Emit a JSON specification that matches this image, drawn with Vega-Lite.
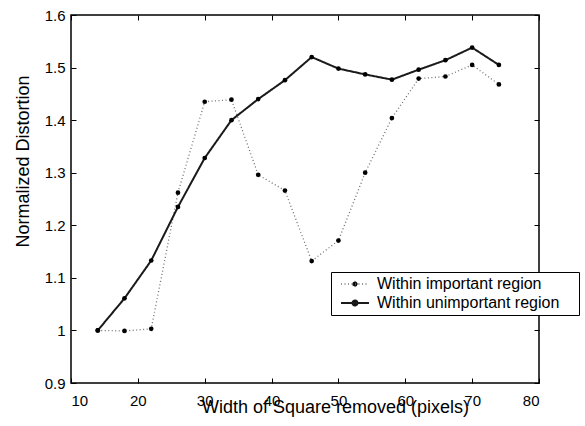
{
  "$schema": "https://vega.github.io/schema/vega-lite/v6.json",
  "width": 468,
  "height": 368,
  "autosize": {"type": "none"},
  "padding": {"left": 71, "top": 15, "right": 46, "bottom": 43},
  "background": "white",
  "config": {
    "font": "Liberation Sans",
    "view": {"stroke": "black", "strokeWidth": 1.5},
    "axis": {
      "domain": false,
      "grid": false,
      "ticks": true,
      "tickColor": "black",
      "tickSize": -5,
      "tickWidth": 1,
      "tickOpacity": 1,
      "labelColor": "black",
      "labelFont": "Liberation Sans",
      "labelFontSize": 15,
      "titleColor": "black",
      "titleFont": "Liberation Sans",
      "titleFontSize": 18,
      "titleFontWeight": "normal"
    }
  },
  "data": {
    "values": [
      {"w": 14, "d": 1.0, "series": "Within important region"},
      {"w": 18, "d": 0.999, "series": "Within important region"},
      {"w": 22, "d": 1.003, "series": "Within important region"},
      {"w": 26, "d": 1.262, "series": "Within important region"},
      {"w": 30, "d": 1.435, "series": "Within important region"},
      {"w": 34, "d": 1.439, "series": "Within important region"},
      {"w": 38, "d": 1.296, "series": "Within important region"},
      {"w": 42, "d": 1.266, "series": "Within important region"},
      {"w": 46, "d": 1.132, "series": "Within important region"},
      {"w": 50, "d": 1.171, "series": "Within important region"},
      {"w": 54, "d": 1.3, "series": "Within important region"},
      {"w": 58, "d": 1.404, "series": "Within important region"},
      {"w": 62, "d": 1.479, "series": "Within important region"},
      {"w": 66, "d": 1.483, "series": "Within important region"},
      {"w": 70, "d": 1.505, "series": "Within important region"},
      {"w": 74, "d": 1.468, "series": "Within important region"},
      {"w": 14, "d": 1.0, "series": "Within unimportant region"},
      {"w": 18, "d": 1.061, "series": "Within unimportant region"},
      {"w": 22, "d": 1.133, "series": "Within unimportant region"},
      {"w": 26, "d": 1.235, "series": "Within unimportant region"},
      {"w": 30, "d": 1.328, "series": "Within unimportant region"},
      {"w": 34, "d": 1.4, "series": "Within unimportant region"},
      {"w": 38, "d": 1.44, "series": "Within unimportant region"},
      {"w": 42, "d": 1.476, "series": "Within unimportant region"},
      {"w": 46, "d": 1.52, "series": "Within unimportant region"},
      {"w": 50, "d": 1.498, "series": "Within unimportant region"},
      {"w": 54, "d": 1.487, "series": "Within unimportant region"},
      {"w": 58, "d": 1.477, "series": "Within unimportant region"},
      {"w": 62, "d": 1.496, "series": "Within unimportant region"},
      {"w": 66, "d": 1.514, "series": "Within unimportant region"},
      {"w": 70, "d": 1.538, "series": "Within unimportant region"},
      {"w": 74, "d": 1.505, "series": "Within unimportant region"}
    ]
  },
  "layer": [
    {
      "mark": {"type": "line"},
      "encoding": {
        "x": {
          "field": "w", "type": "quantitative",
          "scale": {"domain": [10, 80], "nice": false, "zero": false},
          "axis": {
            "orient": "bottom", "values": [10, 20, 30, 40, 50, 60, 70, 80], "format": "d",
            "labelPadding": 15, "labelBaseline": "top",
            "title": "Width of Square removed (pixels)",
            "titleX": 264, "titleY": 29, "titleAlign": "center", "titleBaseline": "alphabetic"
          }
        },
        "y": {
          "field": "d", "type": "quantitative",
          "scale": {"domain": [0.9, 1.6], "nice": false, "zero": false},
          "axis": {
            "orient": "left", "values": [0.9, 1.0, 1.1, 1.2, 1.3, 1.4, 1.5, 1.6], "format": ".1~f",
            "labelPadding": 11,
            "title": "Normalized Distortion",
            "titleX": -43, "titleY": 146, "titleAlign": "center", "titleBaseline": "alphabetic", "titleAngle": 270
          }
        },
        "stroke": {
          "field": "series", "type": "nominal",
          "scale": {"domain": ["Within important region", "Within unimportant region"], "range": ["#707070", "#1a1a1a"]},
          "legend": {
            "title": "\u00a0",
            "titleOrient": "right",
            "titleAngle": 0,
            "titlePadding": 16,
            "titleFontSize": 16,
            "orient": "none",
            "legendX": 260,
            "legendY": 257,
            "fillColor": "white",
            "strokeColor": "black",
            "padding": 4,
            "symbolOffset": 12,
            "symbolType": "M-2,0L2,0M-0.36,0A0.36,0.36 0 1,1 0.36,0A0.36,0.36 0 1,1 -0.36,0Z",
            "symbolSize": 196,
            "symbolStrokeWidth": 1.6,
            "labelFont": "Liberation Sans",
            "labelFontSize": 16,
            "labelColor": "black",
            "labelOffset": 14,
            "labelLimit": 500,
            "rowPadding": 3,
            "encode": {
              "symbols": {"update": {"fill": {"value": "black"}}}
            }
          }
        },
        "strokeDash": {
          "field": "series", "type": "nominal",
          "scale": {"domain": ["Within important region", "Within unimportant region"], "range": [[1, 2.5], [1, 0]]}
        },
        "strokeWidth": {
          "field": "series", "type": "nominal",
          "scale": {"domain": ["Within important region", "Within unimportant region"], "range": [1.3, 2]},
          "legend": null
        }
      }
    },
    {
      "mark": {"type": "point", "filled": true, "color": "black", "size": 22, "opacity": 1},
      "encoding": {
        "x": {"field": "w", "type": "quantitative", "axis": null},
        "y": {"field": "d", "type": "quantitative", "axis": null},
        "detail": {"field": "series"}
      }
    },
    {
      "mark": {"type": "point", "opacity": 0},
      "encoding": {
        "x": {
          "field": "w", "type": "quantitative",
          "axis": {"orient": "top", "values": [10, 20, 30, 40, 50, 60, 70, 80], "labels": false, "title": null}
        },
        "y": {
          "field": "d", "type": "quantitative",
          "axis": {"orient": "right", "values": [0.9, 1.0, 1.1, 1.2, 1.3, 1.4, 1.5, 1.6], "labels": false, "title": null}
        }
      }
    }
  ],
  "resolve": {"axis": {"x": "independent", "y": "independent"}}
}
